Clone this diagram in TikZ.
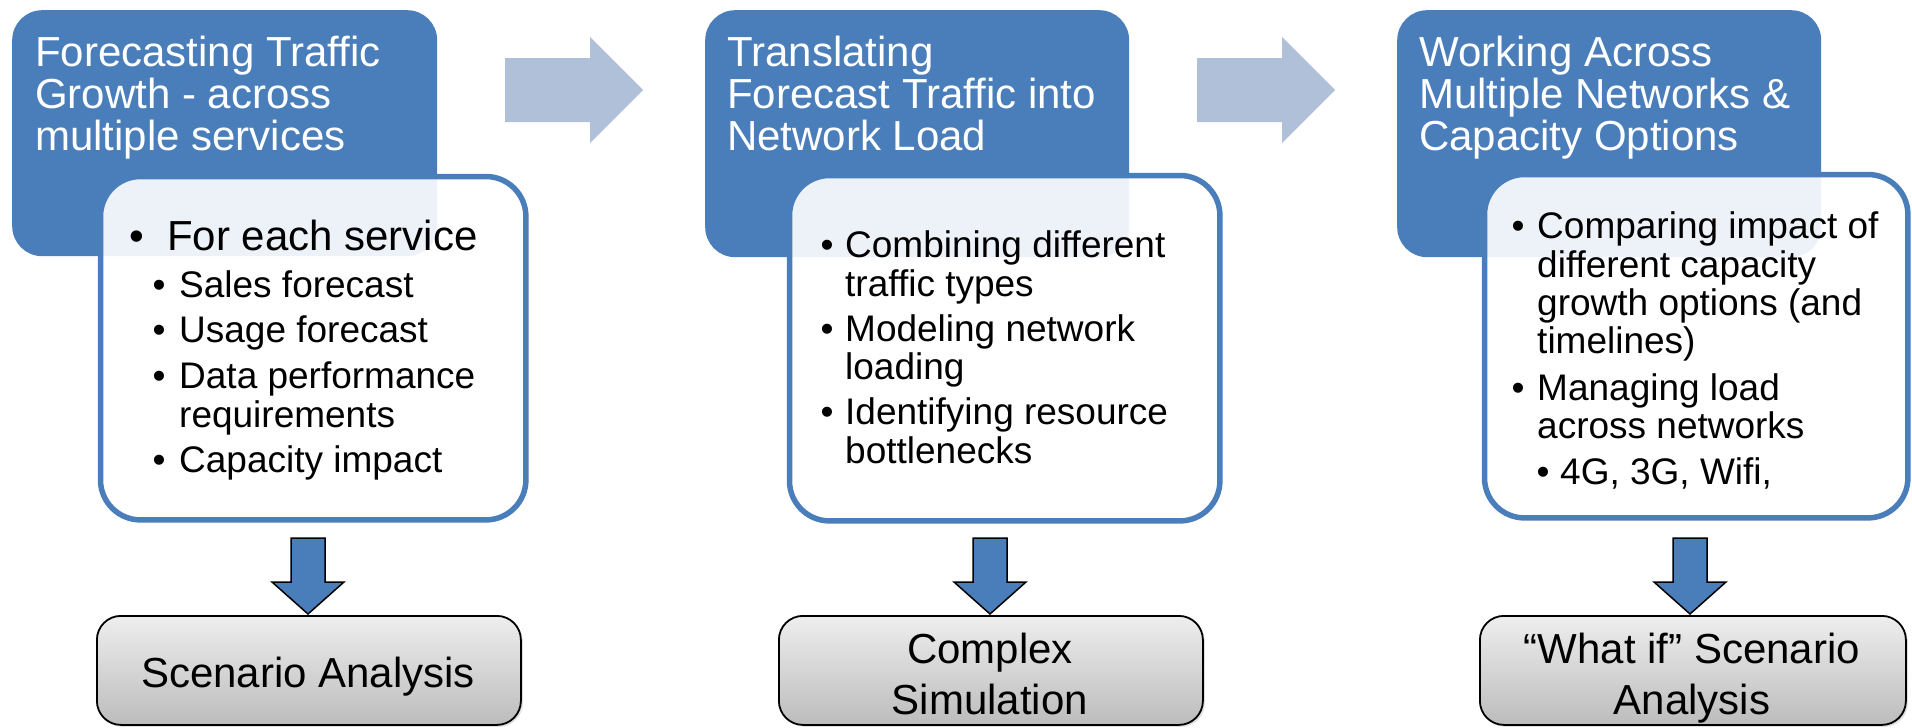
\documentclass[tikz,border=0pt]{standalone}
\usepackage{fontspec}
\setmainfont{Liberation Sans}
\usetikzlibrary{shadows}
\definecolor{accent}{RGB}{74,126,187}
\definecolor{lightarrow}{RGB}{176,192,216}
\definecolor{gtop}{RGB}{238,238,238}
\definecolor{gbot}{RGB}{188,188,188}
\begin{document}
\begin{tikzpicture}[x=1pt,y=-1pt,
  titlebox/.style={fill=accent, draw=none, rounded corners=30pt, inner sep=0pt, anchor=north west},
  listbox/.style={fill=white, fill opacity=0.9, draw=none, rounded corners=40pt, inner sep=0pt, anchor=north west},
  listborder/.style={draw=accent, line width=5.5pt, rounded corners=40pt},
  resultbox/.style={draw=black, line width=1.8pt, rounded corners=24pt, top color=gtop, bottom color=gbot, inner sep=0pt, anchor=north west,
     drop shadow={opacity=0.25, shadow xshift=2pt, shadow yshift=-2pt}},
  ttl/.style={font=\fontsize{42}{42}\selectfont, text=white, inner sep=0pt, anchor=base west},
  big/.style={font=\fontsize{42}{42}\selectfont, text=black, inner sep=0pt, anchor=base west},
  itm/.style={font=\fontsize{37}{37}\selectfont, text=black, inner sep=0pt, anchor=base west},
  bigdot/.style={font=\fontsize{42}{42}\selectfont, text=black, inner sep=0pt, anchor=base},
  dot/.style={font=\fontsize{37}{37}\selectfont, text=black, inner sep=0pt, anchor=base},
  res/.style={font=\fontsize{42}{42}\selectfont, text=black, inner sep=0pt, anchor=base},
  flowarrow/.style={fill=lightarrow, draw=none},
  downarrow/.style={fill=accent, draw=black, line width=1.5pt, line join=miter}
]
\useasboundingbox (0,0) rectangle (1912,728);

% ---------- title boxes ----------
\node[titlebox, minimum width=425pt, minimum height=246pt] (b1) at (12,10) {};
\node[titlebox, minimum width=424pt, minimum height=247pt] (b2) at (705,10) {};
\node[titlebox, minimum width=424pt, minimum height=247pt] (b3) at (1397,10) {};

% ---------- list boxes ----------
\node[listbox, minimum width=425pt, minimum height=343pt] (w1) at (100.5,176.5) {};
\node[listbox, minimum width=430pt, minimum height=345pt] (w2) at (789.5,175.5) {};
\node[listbox, minimum width=423pt, minimum height=343pt] (w3) at (1484.5,174.5) {};
\foreach \w in {w1,w2,w3}{
  \draw[listborder] (\w.north west) rectangle (\w.south east);
}

% ---------- result boxes ----------
\node[resultbox, minimum width=424pt, minimum height=109pt] (g1) at (96,615) {};
\node[resultbox, minimum width=424pt, minimum height=109pt] (g2) at (778,615) {};
\node[resultbox, minimum width=426pt, minimum height=109pt] (g3) at (1479,615) {};

% ---------- horizontal flow arrows ----------
\coordinate (r1) at (505,90);
\coordinate (r2) at (1197,90);
\foreach \r in {r1,r2}{
  \fill[flowarrow] (\r) ++(0,-32) -- ++(85,0) -- ++(0,-21) -- ++(53,53) -- ++(-53,53) -- ++(0,-21) -- ++(-85,0) -- cycle;
}

% ---------- down arrows ----------
\coordinate (d1) at (308,538);
\coordinate (d2) at (990,538);
\coordinate (d3) at (1690,538);
\foreach \d in {d1,d2,d3}{
  \draw[downarrow] (\d) ++(-17,0) -- ++(34,0) -- ++(0,44) -- ++(19,0) -- ++(-36,32) -- ++(-36,-32) -- ++(19,0) -- cycle;
}

% ---------- titles ----------
\node[ttl] (t1a) at (35,66) {Forecasting Traffic};
\node[ttl] (t1b) at (35,108) {Growth - across};
\node[ttl] (t1c) at (35,150) {multiple services};

\node[ttl] (t2a) at (727,66) {Translating};
\node[ttl] (t2b) at (727,108) {Forecast Traffic into};
\node[ttl] (t2c) at (727,150) {Network Load};

\node[ttl] (t3a) at (1419,66) {Working Across};
\node[ttl] (t3b) at (1419,108) {Multiple Networks \&};
\node[ttl] (t3c) at (1419,150) {Capacity Options};

% ---------- list 1 ----------
\node[bigdot] (p1a) at (137,250) {•};
\node[big] (l1a) at (167,250) {For each service};
\node[dot] (p1b) at (159,297) {•};
\node[itm] (l1b) at (179,297) {Sales forecast};
\node[dot] (p1c) at (159,342) {•};
\node[itm] (l1c) at (179,342) {Usage forecast};
\node[dot] (p1d) at (159,388) {•};
\node[itm] (l1d) at (179,388) {Data performance};
\node[itm] (l1e) at (179,427) {requirements};
\node[dot] (p1f) at (159,472) {•};
\node[itm] (l1f) at (179,472) {Capacity impact};

% ---------- list 2 ----------
\node[dot] (p2a) at (827,257) {•};
\node[itm] (l2a) at (845,257) {Combining different};
\node[itm] (l2b) at (845,296) {traffic types};
\node[dot] (p2c) at (827,341) {•};
\node[itm] (l2c) at (845,341) {Modeling network};
\node[itm] (l2d) at (845,379) {loading};
\node[dot] (p2e) at (827,424) {•};
\node[itm] (l2e) at (845,424) {Identifying resource};
\node[itm] (l2f) at (845,463) {bottlenecks};

% ---------- list 3 ----------
\node[dot] (p3a) at (1518,238) {•};
\node[itm] (l3a) at (1537,238) {Comparing impact of};
\node[itm] (l3b) at (1537,277) {different capacity};
\node[itm] (l3c) at (1537,315) {growth options (and};
\node[itm] (l3d) at (1537,353) {timelines)};
\node[dot] (p3e) at (1518,400) {•};
\node[itm] (l3e) at (1537,400) {Managing load};
\node[itm] (l3f) at (1537,438) {across networks};
\node[dot] (p3g) at (1543,484) {•};
\node[itm] (l3g) at (1560,484) {4G, 3G, Wifi,};

% ---------- result texts ----------
\node[res] (s1) at (308,687) {Scenario Analysis};
\node[res] (s2a) at (990,663) {Complex};
\node[res] (s2b) at (990,714) {Simulation};
\node[res] (s3a) at (1692,663) {“What if” Scenario};
\node[res] (s3b) at (1692,714) {Analysis};
\end{tikzpicture}
\end{document}
